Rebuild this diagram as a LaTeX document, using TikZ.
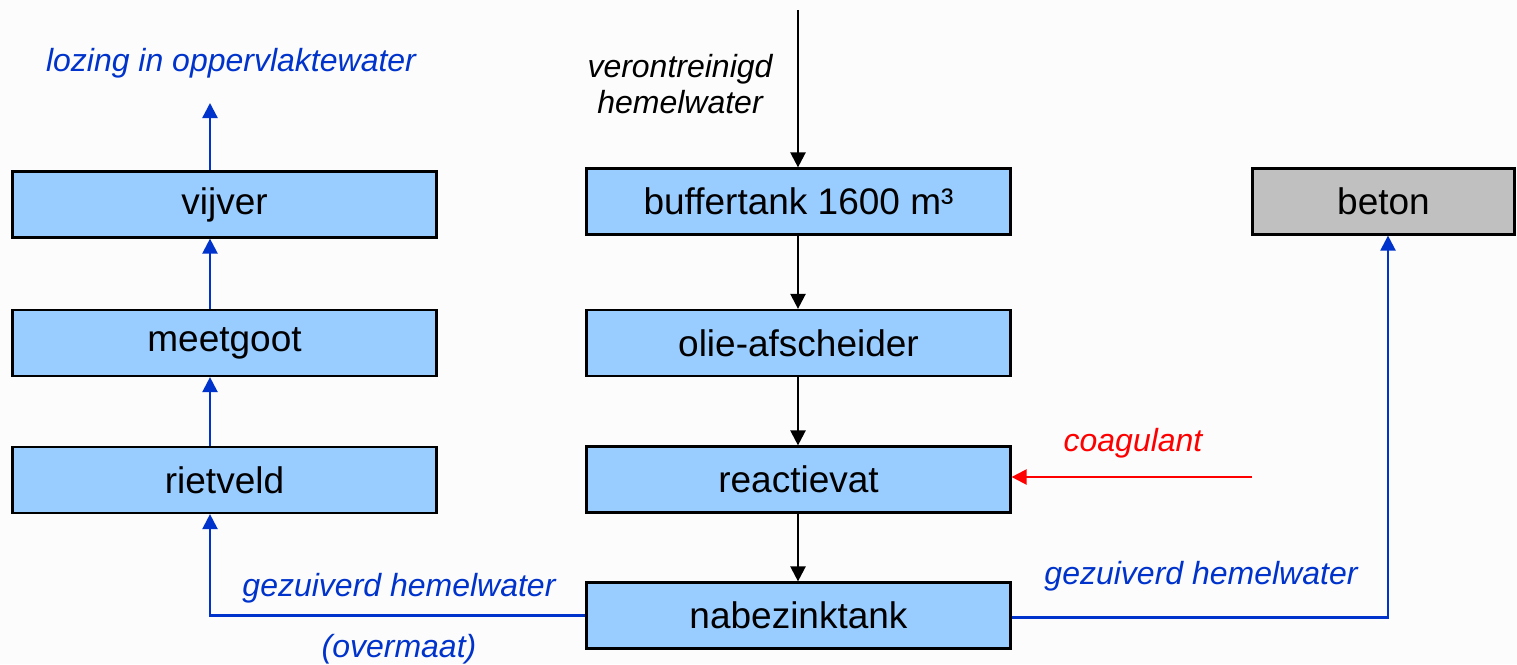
\documentclass[tikz,border=0pt]{standalone}
\usepackage{fontspec}
\setmainfont{Liberation Sans}
\usetikzlibrary{arrows.meta}
\definecolor{boxblue}{HTML}{99CCFF}
\definecolor{flowblue}{HTML}{0033CC}
\definecolor{boxgray}{HTML}{C0C0C0}
\definecolor{bgwhite}{HTML}{FCFCFC}
\begin{document}
\begin{tikzpicture}[x=1pt,y=-1pt,
  tank/.style={draw=black, line width=2.2pt, fill=boxblue, inner sep=0pt,
    minimum width=424pt, minimum height=66pt, font=\fontsize{37}{41}\selectfont},
  label/.style={font=\fontsize{32}{36}\selectfont\itshape, align=center},
  flow/.style={line width=2.3pt, -{Triangle[length=15pt,width=15pt]}},
  blueflow/.style={flow, draw=flowblue},
  redflow/.style={flow, draw=red}]
% 背景
\fill[bgwhite] (0,0) rectangle (1517,664);
\useasboundingbox (0,0) rectangle (1517,664);

% 左列
\node[tank] (vijver) at (224.5,204.5) {vijver};
\node[tank] (meetgoot) at (224.5,343) {meetgoot};
\node[tank] (rietveld) at (224.5,480) {rietveld};
% 中列
\node[tank] (buffer) at (798.5,201.5) {buffertank 1600 m³};
\node[tank] (olie) at (798.5,343) {olie-afscheider};
\node[tank] (reactie) at (798.5,479.5) {reactievat};
\node[tank] (nabezink) at (798.5,615.5) {nabezinktank};
% 右侧
\node[tank, fill=boxgray, minimum width=262pt] (beton) at (1383.5,201.5) {beton};

% 标注
\node[label, text=flowblue] (lozing) at (231,63) {lozing in oppervlaktewater};
\node[label] (veront) at (680,84) {verontreinigd\\hemelwater};
\node[label, text=red] (coag) at (1133,443) {coagulant};
\node[label, text=flowblue] (gezL) at (399,588) {gezuiverd hemelwater};
\node[label, text=flowblue] (overmaat) at (399,649) {(overmaat)};
\node[label, text=flowblue] (gezR) at (1201,576) {gezuiverd hemelwater};

% 端点
\coordinate (lx) at (210,0);
\coordinate (bx) at (1388,0);
\coordinate (inlet) at (798,10);
\coordinate (uitlaat) at (210,103);
\coordinate (coagin) at (1252,477);

% 中列流程
\draw[flow] (inlet) -- (buffer.north -| inlet);
\draw[flow] (buffer.south -| inlet) -- (olie.north -| inlet);
\draw[flow] (olie.south -| inlet) -- (reactie.north -| inlet);
\draw[flow] (reactie.south -| inlet) -- (nabezink.north -| inlet);
\draw[redflow] (coagin) -- (reactie.east |- coagin);

% 左列流程
\draw[blueflow] (nabezink.west) -| (rietveld.south -| lx);
\draw[blueflow] (rietveld.north -| lx) -- (meetgoot.south -| lx);
\draw[blueflow] (meetgoot.north -| lx) -- (vijver.south -| lx);
\draw[blueflow] (vijver.north -| lx) -- (uitlaat);

% 右侧流程
\draw[blueflow] ([yshift=-2pt]nabezink.east) -| (beton.south -| bx);
\end{tikzpicture}
\end{document}
